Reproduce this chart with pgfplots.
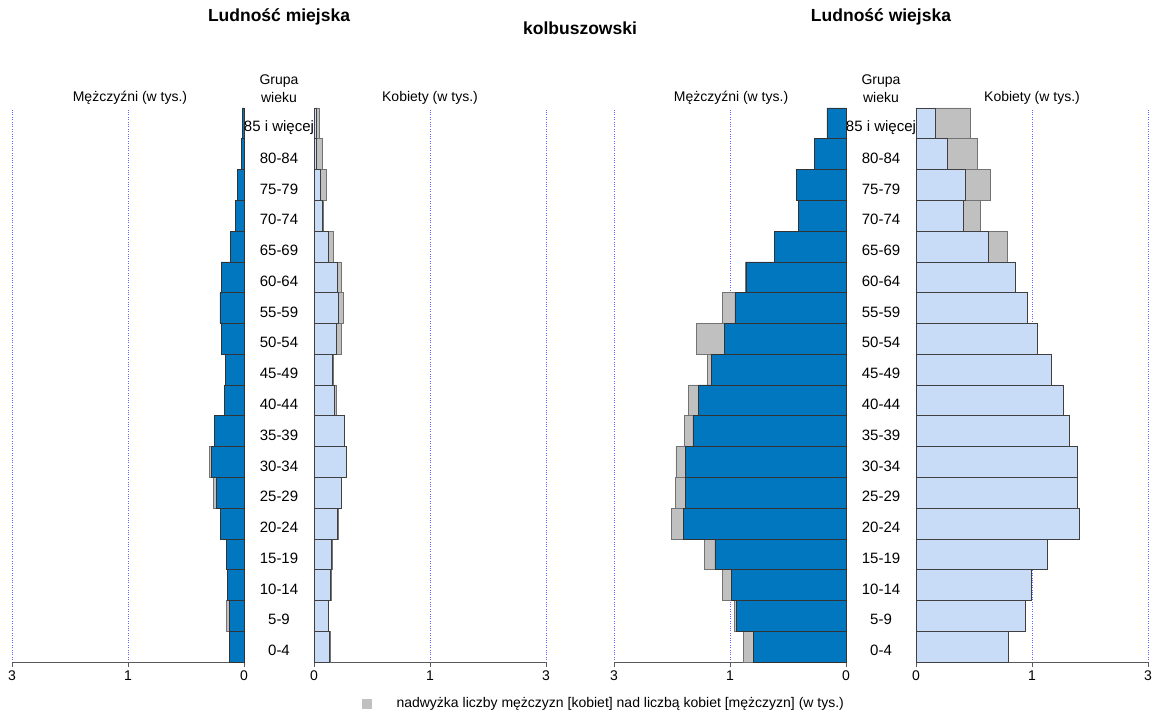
\documentclass[border=0pt]{standalone}
\usepackage{fontspec}
\setmainfont{Liberation Sans}
\usepackage{pgfplots}
\usepackage{pgfplotstable}
\pgfplotsset{compat=1.18}

\definecolor{mblue}{RGB}{0,119,190}
\definecolor{fblue}{RGB}{200,220,247}
\definecolor{xgray}{RGB}{192,192,192}
\definecolor{gridblue}{RGB}{100,100,255}

% i = age group (0 = 0-4 ... 17 = 85 i wiecej), M / F in thousands
\pgfplotstableread{
i M F
0 0.129 0.138
1 0.155 0.125
2 0.144 0.152
3 0.149 0.158
4 0.201 0.210
5 0.264 0.236
6 0.299 0.280
7 0.258 0.262
8 0.172 0.195
9 0.161 0.170
10 0.195 0.233
11 0.207 0.253
12 0.198 0.238
13 0.120 0.170
14 0.072 0.080
15 0.057 0.106
16 0.023 0.072
17 0.017 0.043
}\urban

\pgfplotstableread{
i M F
0 0.885 0.800
1 0.963 0.945
2 1.069 0.990
3 1.221 1.130
4 1.506 1.405
5 1.471 1.387
6 1.466 1.387
7 1.394 1.320
8 1.356 1.270
9 1.196 1.163
10 1.290 1.050
11 1.066 0.957
12 0.865 0.860
13 0.620 0.785
14 0.410 0.556
15 0.425 0.640
16 0.270 0.533
17 0.165 0.468
}\rural

\pgfplotsset{pyr/.style={
  scale only axis, width=232pt, height=554pt,
  xmin=0, xmax=2, ymin=-0.5, ymax=17.5,
  xbar stacked, bar width=1,
  axis x line*=bottom, axis y line=none,
  xtick={0,1,2}, xticklabels={0,1,3},
  ytick=\empty,
  xmajorgrids, grid style={gridblue, dotted, line width=0.6pt},
  x axis line style={draw=black!65, line width=0.8pt, -},
  tick style={draw=black!65, line width=0.8pt},
  xtick align=outside, major tick length=5pt,
  tick label style={font=\fontsize{14}{16}\selectfont},
  clip=false,
}}

\begin{document}
\begin{tikzpicture}
\path[use as bounding box] (0,0) rectangle (1153pt,720pt);

% urban men
\begin{axis}[pyr, x dir=reverse, at={(12pt,58pt)}, anchor=south west]
\addplot[fill=mblue, draw=black!80, line width=0.7pt] table[x expr={min(\thisrow{M},\thisrow{F})}, y=i]{\urban};
\addplot[fill=xgray, draw=black!55, line width=0.7pt] table[x expr={max(\thisrow{M}-\thisrow{F},0)}, y=i]{\urban};
\draw[black!55, line width=0.8pt] (axis cs:0,-0.5) -- (axis cs:0,17.5);
\end{axis}
% urban women
\begin{axis}[pyr, at={(314pt,58pt)}, anchor=south west]
\addplot[fill=fblue, draw=black!75, line width=0.7pt] table[x expr={min(\thisrow{M},\thisrow{F})}, y=i]{\urban};
\addplot[fill=xgray, draw=black!55, line width=0.7pt] table[x expr={max(\thisrow{F}-\thisrow{M},0)}, y=i]{\urban};
\draw[black!55, line width=0.8pt] (axis cs:0,-0.5) -- (axis cs:0,17.5);
\end{axis}
% rural men
\begin{axis}[pyr, x dir=reverse, at={(614pt,58pt)}, anchor=south west]
\addplot[fill=mblue, draw=black!80, line width=0.7pt] table[x expr={min(\thisrow{M},\thisrow{F})}, y=i]{\rural};
\addplot[fill=xgray, draw=black!55, line width=0.7pt] table[x expr={max(\thisrow{M}-\thisrow{F},0)}, y=i]{\rural};
\draw[black!55, line width=0.8pt] (axis cs:0,-0.5) -- (axis cs:0,17.5);
\end{axis}
% rural women
\begin{axis}[pyr, at={(916pt,58pt)}, anchor=south west]
\addplot[fill=fblue, draw=black!75, line width=0.7pt] table[x expr={min(\thisrow{M},\thisrow{F})}, y=i]{\rural};
\addplot[fill=xgray, draw=black!55, line width=0.7pt] table[x expr={max(\thisrow{F}-\thisrow{M},0)}, y=i]{\rural};
\draw[black!55, line width=0.8pt] (axis cs:0,-0.5) -- (axis cs:0,17.5);
\end{axis}

% titles
\node[font=\bfseries\fontsize{17.5}{20}\selectfont] at (279pt,703pt) {Ludność miejska};
\node[font=\bfseries\fontsize{17.5}{20}\selectfont] at (580pt,692pt) {kolbuszowski};
\node[font=\bfseries\fontsize{17.5}{20}\selectfont] at (881pt,703pt) {Ludność wiejska};

\foreach \cx/\mx/\fx in {279/130/430, 881/731/1032} {
  \node[font=\fontsize{14}{18}\selectfont] at (\mx pt,622pt) {Mężczyźni (w tys.)};
  \node[font=\fontsize{14}{18}\selectfont] at (\fx pt,622pt) {Kobiety (w tys.)};
  \node[font=\fontsize{14}{18}\selectfont, align=center] at (\cx pt,631pt) {Grupa\\wieku};
  \foreach \lab [count=\k from 0] in {0-4,5-9,10-14,15-19,20-24,25-29,30-34,35-39,40-44,45-49,50-54,55-59,60-64,65-69,70-74,75-79,80-84,85 i więcej} {
    \pgfmathsetmacro\yy{58+30.778*(\k+0.5)-4}
    \node[font=\fontsize{15}{17}\selectfont] at (\cx pt,\yy pt) {\lab};
  }
}

% legend
\fill[xgray] (362pt,11pt) rectangle (372pt,21pt);
\node[anchor=west, font=\fontsize{14}{16}\selectfont] at (393pt,16pt) {nadwyżka liczby mężczyzn [kobiet] nad liczbą kobiet [mężczyzn] (w tys.)};
\end{tikzpicture}
\end{document}
